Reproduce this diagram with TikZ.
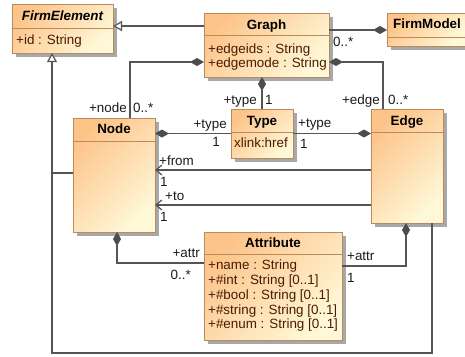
\documentclass[tikz,border=0pt]{standalone}
\usepackage{fontspec}
\setmainfont{Liberation Sans}
\usetikzlibrary{arrows.meta,shadows,calc}
\definecolor{clsTop}{HTML}{FDC48A}
\definecolor{clsBot}{HTML}{FFF8D8}
\definecolor{clsBorder}{HTML}{B98A5C}
\definecolor{fieldText}{HTML}{4A1C00}
\definecolor{lineCol}{HTML}{555555}
\definecolor{tipCol}{HTML}{4D4D4D}
\definecolor{shadowCol}{HTML}{A8A8A8}
\definecolor{labelCol}{HTML}{1A1A1A}
\begin{document}
\begin{tikzpicture}[x=1pt,y=-1pt,
  font=\fontsize{13.4}{16}\selectfont,
  cls/.style={draw=clsBorder, line width=1pt, top color=clsTop, bottom color=clsBot,
    shading angle=45, drop shadow={shadow xshift=4pt, shadow yshift=-4pt, fill=shadowCol, opacity=1},
    inner sep=0pt, outer sep=0pt, anchor=north west},
  divline/.style={draw=clsBorder, line width=1pt},
  ttl/.style={inner sep=0pt, anchor=base, font=\fontsize{13.4}{16}\selectfont\bfseries, text=black},
  fld/.style={inner sep=0pt, anchor=base west, text=fieldText},
  lblL/.style={inner sep=0pt, anchor=base west, text=labelCol},
  lblR/.style={inner sep=0pt, anchor=base east, text=labelCol},
  conn/.style={draw=lineCol, line width=1.2pt},
  comp/.style={conn, {Diamond[length=14pt,width=8pt,fill=tipCol,color=tipCol]}-},
  compEnd/.style={conn, -{Diamond[length=14pt,width=8pt,fill=tipCol,color=tipCol]}},
  gen/.style={conn, -{Triangle[open,length=9pt,width=10pt,fill=white,color=lineCol]}},
  nav/.style={conn, -{Straight Barb[length=6pt,width=10pt,color=lineCol]}}
]
\useasboundingbox (0,0) rectangle (465,356);

% ---------- classes ----------
\node[cls, minimum width=101pt, minimum height=49pt] (fe) at (12,4) {};
\draw[divline] (12,28) -- (113,28);
\node[ttl, font=\fontsize{13.4}{16}\selectfont\bfseries\itshape] (feT) at (62.5,20.5) {FirmElement};
\node[fld] (feF1) at (16,44) {+id : String};

\node[cls, minimum width=125pt, minimum height=64pt] (graph) at (204,13) {};
\draw[divline] (204,35) -- (329,35);
\node[ttl] (graphT) at (266.5,29) {Graph};
\node[fld] (graphF1) at (208,53) {+edgeids : String};
\node[fld] (graphF2) at (208,67) {+edgemode : String};

\node[cls, minimum width=80pt, minimum height=33pt] (fm) at (387,13) {};
\draw[divline] (387,37) -- (467,37);
\node[ttl] (fmT) at (427,28) {FirmModel};

\node[cls, minimum width=82pt, minimum height=114pt] (node) at (73,118) {};
\draw[divline] (73,141) -- (155,141);
\node[ttl] (nodeT) at (114,133.5) {Node};

\node[cls, minimum width=62pt, minimum height=49pt] (type) at (231,109) {};
\draw[divline] (231,132) -- (293,132);
\node[ttl] (typeT) at (262,125) {Type};
\node[fld] (typeF1) at (234,147.5) {xlink:href};

\node[cls, minimum width=72pt, minimum height=114pt] (edge) at (371,109) {};
\draw[divline] (371,132) -- (443,132);
\node[ttl] (edgeT) at (407,125) {Edge};

\node[cls, minimum width=138pt, minimum height=108pt] (attr) at (204,232) {};
\draw[divline] (204,254) -- (342,254);
\node[ttl] (attrT) at (273,247) {Attribute};
\node[fld] (attrF1) at (208,269.5) {+name : String};
\node[fld] (attrF2) at (208,284.5) {+\#int : String [0..1]};
\node[fld] (attrF3) at (208,299) {+\#bool : String [0..1]};
\node[fld] (attrF4) at (208,314) {+\#string : String [0..1]};
\node[fld] (attrF5) at (208,328.5) {+\#enum : String [0..1]};

% ---------- connectors ----------
\coordinate (feB) at ($(fe.south west)+(40,0)$);
\draw[gen] ($(graph.north west)+(0,13)$) -- ($(fe.north east)+(0,22)$);
\draw[compEnd] ($(graph.north east)+(0,17)$) -- ($(fm.north west)+(0,17)$);
\draw[comp] ($(graph.north west)+(0,49)$) -| ($(node.north west)+(57,0)$);
\draw[comp] ($(graph.north east)+(0,49)$) -| ($(edge.north west)+(12,0)$);
\draw[comp] (graph.south -| type.north) -- (type.north);
\draw[comp] (node.east |- type.west) -- (type.west);
\draw[comp] (edge.west |- type.east) -- (type.east);
\draw[nav] ($(edge.north west)+(0,61)$) -- ($(node.north east)+(0,52)$);
\draw[nav] ($(edge.north west)+(0,96)$) -- ($(node.north east)+(0,87)$);
\draw[comp] ($(node.south west)+(44,0)$) |- ($(attr.north west)+(0,31)$);
\draw[comp] ($(edge.south west)+(35,0)$) |- ($(attr.north east)+(0,34)$);
\draw[gen] ($(edge.south west)+(61,0)$) -- ++(0,130) -| (feB);
\draw[conn] ($(node.north west)+(0,55)$) -- ($(node.north west)+(-21,55)$);

% ---------- labels ----------
\node[lblR] (lNode) at (127,112.5) {+node};
\node[lblL] (mNode) at (133,112.5) {0..*};
\node[lblR] (lGType) at (257,104) {+type};
\node[lblL] (mGType) at (265,104) {1};
\node[lblR] (lEdge) at (380,104) {+edge};
\node[lblL] (mEdge) at (388,104) {0..*};
\node[lblL] (mFm) at (333,46) {0..*};
\node[lblR] (lNType) at (227,128.5) {+type};
\node[lblR] (mNType) at (220,146.5) {1};
\node[lblL] (lEType) at (298,127) {+type};
\node[lblL] (mEType) at (300,148) {1};
\node[lblL] (lFrom) at (159,165) {+from};
\node[lblL] (mFrom) at (160,186.5) {1};
\node[lblL] (lTo) at (165,200) {+to};
\node[lblL] (mTo) at (160,221.5) {1};
\node[lblR] (lNAttr) at (200,257) {+attr};
\node[lblR] (mNAttr) at (191,279) {0..*};
\node[lblL] (lEAttr) at (347,260.5) {+attr};
\node[lblL] (mEAttr) at (347,282.5) {1};
\end{tikzpicture}
\end{document}
